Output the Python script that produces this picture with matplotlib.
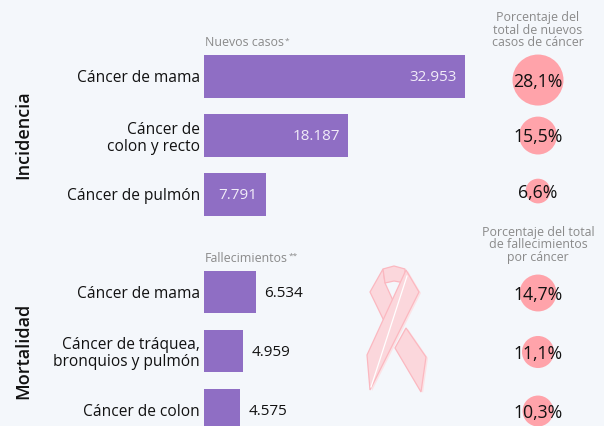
import matplotlib
matplotlib.use("Agg")
import matplotlib.pyplot as plt
from matplotlib.patches import Polygon

plt.rcParams["font.family"] = ["Open Sans", "DejaVu Sans"]

BG = "#f4f7fb"
PURPLE = "#8f6ec4"
PINK = "#ffa3aa"
GREY = "#8a8a8a"
INK = "#111111"

inc_labels = ["Cáncer de mama", "Cáncer de\ncolon y recto", "Cáncer de pulmón"]
inc_values = [32953, 18187, 7791]
inc_texts = ["32.953", "18.187", "7.791"]
inc_pct = [28.1, 15.5, 6.6]
inc_pct_texts = ["28,1%", "15,5%", "6,6%"]

mort_labels = ["Cáncer de mama", "Cáncer de tráquea,\nbronquios y pulmón", "Cáncer de colon"]
mort_values = [6534, 4959, 4575]
mort_texts = ["6.534", "4.959", "4.575"]
mort_pct = [14.7, 11.1, 10.3]
mort_pct_texts = ["14,7%", "11,1%", "10,3%"]

W, H = 604, 426
fig = plt.figure(figsize=(W / 100, H / 100), dpi=100, facecolor=BG)


def px_axes(left, top, right, bottom):
    # axes from pixel box, y measured from the top
    return fig.add_axes([left / W, 1 - bottom / H, (right - left) / W, (bottom - top) / H])


def panel(top, bub_top, bub_h, labels, values, texts, pct, pct_texts):
    ax = px_axes(204, top, 465, top + 177)
    ax.set_facecolor("none")
    ax.barh(range(3), values, height=0.72, color=PURPLE)
    ax.set_xlim(0, 32953)
    ax.set_ylim(2.5, -0.5)
    ax.set_yticks(range(3))
    ax.set_yticklabels(labels, fontsize=11.2, color=INK, linespacing=1.12)
    ax.tick_params(axis="y", length=0, pad=3)
    ax.set_xticks([])
    for s in ax.spines.values():
        s.set_visible(False)
    for i, v in enumerate(values):
        if v > 7000:
            ax.annotate(texts[i], (v, i), xytext=(-5.8, -1), textcoords="offset points",
                        ha="right", va="center", color="#f1ecf8", fontsize=11)
        else:
            ax.annotate(texts[i], (v, i), xytext=(5.8, -1), textcoords="offset points",
                        ha="left", va="center", color=INK, fontsize=11)

    # bubbles, area follows the percentage
    bx = px_axes(490, bub_top, 586, bub_top + bub_h)
    bx.set_facecolor("none")
    bx.axis("off")
    bx.set_xlim(0, 1)
    bx.set_ylim(2.5, -0.5)
    bx.scatter([0.5] * 3, range(3), s=[p * 48 for p in pct], color=PINK, linewidths=0)
    for i, t in enumerate(pct_texts):
        bx.annotate(t, (0.5, i), xytext=(0, -1.2), textcoords="offset points",
                    ha="center", va="center", fontsize=12.7, color=INK)


panel(47, 52.3, 166.5, inc_labels, inc_values, inc_texts, inc_pct, inc_pct_texts)
panel(262.5, 263.5, 177, mort_labels, mort_values, mort_texts, mort_pct, mort_pct_texts)

# overlay in pixels for headers and the ribbon
ov = fig.add_axes([0, 0, 1, 1])
ov.set_xlim(0, W)
ov.set_ylim(H, 0)
ov.axis("off")
ov.patch.set_alpha(0)

t1 = ov.text(205, 43, "Nuevos casos", fontsize=8.9, color=GREY, ha="left", va="center")
ov.annotate("*", xy=(1, 1), xycoords=t1, xytext=(0.5, -1), textcoords="offset points",
            fontsize=6, color=GREY, ha="left", va="top")
t2 = ov.text(205, 258, "Fallecimientos", fontsize=8.9, color=GREY, ha="left", va="center")
ov.annotate("**", xy=(1, 1), xycoords=t2, xytext=(0.5, -1), textcoords="offset points",
            fontsize=6, color=GREY, ha="left", va="top")
ov.text(538, 30, "Porcentaje del\ntotal de nuevos\ncasos de cáncer", fontsize=8.9, color=GREY,
        ha="center", va="center", linespacing=0.95)
ov.text(538, 245, "Porcentaje del total\nde fallecimientos\npor cáncer", fontsize=8.9, color=GREY,
        ha="center", va="center", linespacing=0.95)
ov.text(23, 135, "Incidencia", rotation=90, fontsize=13, fontweight="semibold", color=INK,
        ha="center", va="center")
ov.text(23, 350.5, "Mortalidad", rotation=90, fontsize=13, fontweight="semibold", color=INK,
        ha="center", va="center")

# ribbon
FILL = "#fbd7dc"
EDGE = "#fbb8c0"
SHADOW = "#fbe3e6"
left_band = [(383, 269), (370, 292), (385, 323), (395, 305), (385, 283)]
low_band = [(406, 328), (426, 357), (421, 392), (395, 348)]
knot = [(383, 269), (394, 266), (405, 269), (405, 283), (394, 281), (385, 283)]
front = [(406, 270), (419, 292), (370, 390), (367, 355)]

for shape in (low_band, front):
    ov.add_patch(Polygon([(x + 2, y + 1) for x, y in shape], closed=True, facecolor=SHADOW, edgecolor="none"))
for shape in (left_band, low_band, knot, front):
    ov.add_patch(Polygon(shape, closed=True, facecolor=FILL, edgecolor=EDGE, linewidth=0.9))
ov.plot([407, 371], [276, 387], color="white", linewidth=0.9)

fig.savefig("out.png", dpi=100, facecolor=BG)
